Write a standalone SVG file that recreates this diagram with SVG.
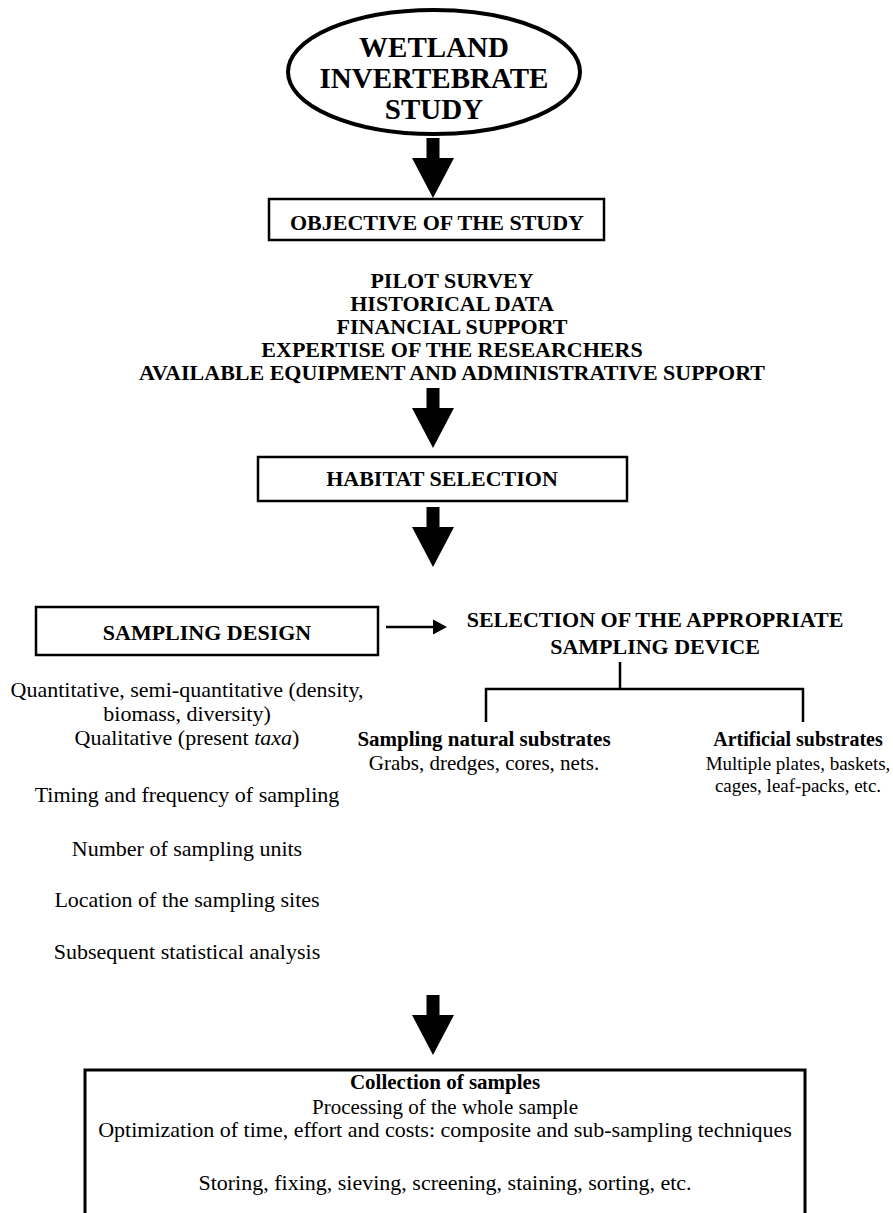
<svg xmlns="http://www.w3.org/2000/svg" width="893" height="1213" viewBox="0 0 893 1213">
<style>
text{font-family:"Liberation Serif","Times New Roman",serif;fill:#000;text-anchor:middle}
.b{font-weight:bold}
.cap{font-size:22px;font-weight:bold}
.r{font-size:22px}
.rs{font-size:19px}
.box{fill:#fff;stroke:#000;stroke-width:2.5}
.arr{fill:#000}
.ln{stroke:#000;stroke-width:2.5;fill:none}
</style>
<defs>
<path id="bigArrow" d="M-6.5,0 H6.5 V20 H21 L0,60 L-21,20 H-6.5 Z"/>
</defs>
<rect width="893" height="1213" fill="#fff"/>

<g id="wetland">
<ellipse cx="434" cy="72" rx="146" ry="62" fill="#fff" stroke="#000" stroke-width="4"/>
<text class="b" x="434" y="57" font-size="29">WETLAND</text>
<text class="b" x="434" y="88" font-size="29">INVERTEBRATE</text>
<text class="b" x="434" y="119" font-size="29">STUDY</text>
</g>

<g id="objective">
<rect class="box" x="269" y="199" width="335" height="41"/>
<text class="cap" x="437" y="230">OBJECTIVE OF THE STUDY</text>
</g>

<g id="factors">
<text class="cap" x="452" y="288">PILOT SURVEY</text>
<text class="cap" x="452" y="311">HISTORICAL DATA</text>
<text class="cap" x="452" y="334">FINANCIAL SUPPORT</text>
<text class="cap" x="452" y="357">EXPERTISE OF THE RESEARCHERS</text>
<text class="cap" x="452" y="380">AVAILABLE EQUIPMENT AND ADMINISTRATIVE SUPPORT</text>
</g>

<g id="habitat">
<rect class="box" x="258" y="457" width="369" height="44"/>
<text class="cap" x="442" y="486">HABITAT SELECTION</text>
</g>

<g id="sampling-design">
<rect class="box" x="36" y="607" width="342" height="48"/>
<text class="cap" x="207" y="640">SAMPLING DESIGN</text>
</g>

<g id="design-details">
<text class="r" x="187" y="697">Quantitative, semi-quantitative (density,</text>
<text class="r" x="187" y="721">biomass, diversity)</text>
<text class="r" x="187" y="745">Qualitative (present <tspan font-style="italic">taxa</tspan>)</text>
<text class="r" x="187" y="802">Timing and frequency of sampling</text>
<text class="r" x="187" y="856">Number of sampling units</text>
<text class="r" x="187" y="907">Location of the sampling sites</text>
<text class="r" x="187" y="959">Subsequent statistical analysis</text>
</g>

<g id="device">
<text class="cap" x="655" y="627">SELECTION OF THE APPROPRIATE</text>
<text class="cap" x="655" y="654">SAMPLING DEVICE</text>
</g>

<g id="natural">
<text class="b" x="484" y="746" font-size="21">Sampling natural substrates</text>
<text x="484" y="770" font-size="21">Grabs, dredges, cores,  nets.</text>
</g>

<g id="artificial">
<text class="b" x="798" y="746" font-size="20">Artificial substrates</text>
<text class="rs" x="798" y="770">Multiple plates, baskets,</text>
<text class="rs" x="798" y="792">cages, leaf-packs, etc.</text>
</g>

<g id="collection">
<rect x="85" y="1070" width="720" height="160" fill="#fff" stroke="#000" stroke-width="3"/>
<text class="b" x="445" y="1089" font-size="21">Collection of samples</text>
<text x="445" y="1114" font-size="21">Processing of the whole sample</text>
<text class="r" x="445" y="1137">Optimization of time, effort and costs: composite and sub-sampling techniques</text>
<text class="r" x="445" y="1190">Storing, fixing, sieving, screening, staining, sorting, etc.</text>
</g>

<g id="connectors">
<use href="#bigArrow" x="433" y="138"/>
<use href="#bigArrow" x="433" y="388"/>
<use href="#bigArrow" x="433" y="507"/>
<use href="#bigArrow" x="433" y="995"/>
<line class="ln" x1="386" y1="627" x2="436" y2="627" stroke-width="3"/>
<path class="arr" d="M433,619.5 L447,627 L433,634.5 Z"/>
<path class="ln" d="M620,662 V689 M486,722 V689 H803 V722"/>
</g>
</svg>
